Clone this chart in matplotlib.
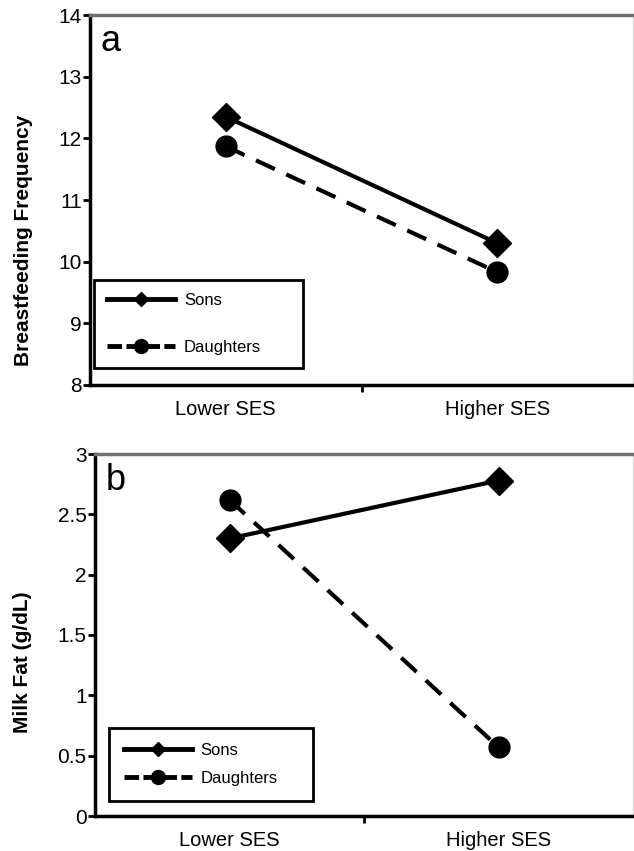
import matplotlib
matplotlib.use("Agg")
import matplotlib.pyplot as plt
from matplotlib.lines import Line2D

plt.rcParams['font.family'] = ['Liberation Sans', 'DejaVu Sans']

categories = ["Lower SES", "Higher SES"]
freq_sons = [12.35, 10.30]
freq_daughters = [11.87, 9.83]
fat_sons = [2.30, 2.78]
fat_daughters = [2.62, 0.57]

W, H = 634, 851
fig = plt.figure(figsize=(W / 100, H / 100), dpi=100)


def px_axes(left, top, right, bottom):
    return fig.add_axes([left / W, 1 - bottom / H, (right - left) / W, (bottom - top) / H])


def style(ax, ylim, yticks, ylabel, label_xy, letter, leg_box, leg_space, leg_pad):
    x = range(len(categories))
    ax.set_xlim(-0.5, len(categories) - 0.5)
    ax.set_ylim(*ylim)
    ax.set_yticks(yticks)
    ax.set_yticklabels([("%g" % t) for t in yticks], fontsize=15)
    ax.set_xticks([0.5])
    ax.set_xticklabels([""])
    ax.set_xticks(list(x), minor=True)
    ax.set_xticklabels(categories, minor=True, fontsize=14.5)
    ax.tick_params(axis='x', which='minor', length=0, pad=11)
    ax.tick_params(axis='x', which='major', length=5, width=2, direction='out')
    ax.tick_params(axis='y', length=5, width=2, direction='out', pad=1)
    for s in ('left', 'bottom'):
        ax.spines[s].set_linewidth(2.5)
        ax.spines[s].set_color('black')
    ax.spines['top'].set_linewidth(2.5)
    ax.spines['top'].set_color('#707070')
    ax.spines['right'].set_linewidth(1)
    ax.spines['right'].set_color('#d8d8d8')
    ax.set_ylabel(ylabel, fontsize=15, fontweight='bold')
    ax.yaxis.label.set_va('center')
    ax.yaxis.set_label_coords(*label_xy)
    ax.text(0.02, 0.975, letter, transform=ax.transAxes, fontsize=26, va='top', ha='left')

    handles = [
        Line2D([], [], color='black', lw=3.5, marker='D', markersize=7),
        Line2D([], [], color='black', lw=3.5, marker='o', markersize=10,
               linestyle=(0, (3.0, 0.9))),
    ]
    leg = ax.legend(handles, ["Sons", "Daughters"], loc='lower left',
                    bbox_to_anchor=leg_box, mode='expand', fontsize=12,
                    frameon=True, fancybox=False, edgecolor='black',
                    framealpha=1, handlelength=4.1, labelspacing=leg_space,
                    borderpad=leg_pad, handletextpad=0.5, borderaxespad=0)
    leg.get_frame().set_linewidth(2)


# panel a
ax1 = px_axes(90, 15, 633, 385)
x = range(len(categories))
ax1.plot(x, freq_sons, color='black', lw=3, marker='D', markersize=14, zorder=3)
ax1.plot(x, freq_daughters, color='black', lw=3, marker='o', markersize=15,
         linestyle=(0, (5, 3)), zorder=3)
style(ax1, (8, 14), [8, 9, 10, 11, 12, 13, 14], "Breastfeeding Frequency",
      (-0.123, 0.39), "a", (0.007, 0.046, 0.385, 0.25), 1.9, 0.8)

# panel b
ax2 = px_axes(95, 454, 633, 816)
ax2.plot(x, fat_sons, color='black', lw=3, marker='D', markersize=14, zorder=3)
ax2.plot(x, fat_daughters, color='black', lw=3, marker='o', markersize=15,
         linestyle=(0, (5, 3)), zorder=3)
style(ax2, (0, 3), [0, 0.5, 1, 1.5, 2, 2.5, 3], "Milk Fat (g/dL)",
      (-0.134, 0.425), "b", (0.026, 0.041, 0.38, 0.25), 0.8, 0.9)

fig.savefig("out.png", dpi=100)
